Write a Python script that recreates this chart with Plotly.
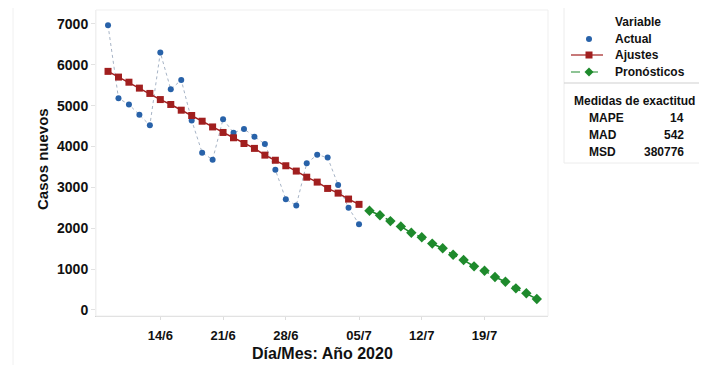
import plotly.graph_objects as go

# ---- data ----
days_actual = list(range(1, 26))
actual = [6970, 5180, 5030, 4780, 4520, 6300, 5400, 5630, 4640, 3850, 3680, 4670,
          4340, 4430, 4240, 4060, 3430, 2710, 2560, 3590, 3800, 3730, 3060, 2500, 2100]
fits = [5840, 5700, 5575, 5430, 5300, 5150, 5030, 4890, 4760, 4620, 4480, 4345,
        4215, 4075, 3955, 3790, 3665, 3530, 3400, 3250, 3130, 2975, 2860, 2715, 2585]
days_fc = list(range(26, 43))
forecast = [2430, 2320, 2176, 2046, 1890, 1780, 1625, 1510, 1352, 1222, 1068, 961,
            807, 692, 530, 408, 269]
tick_days = [6, 12, 18, 25, 31, 37]
tick_labels = ["14/6", "21/6", "28/6", "05/7", "12/7", "19/7"]
y_ticks = [0, 1000, 2000, 3000, 4000, 5000, 6000, 7000]
legend_names = ["Actual", "Ajustes", "Pronósticos"]
measure_names = ["MAPE", "MAD", "MSD"]
measure_values = ["14", "542", "380776"]

FONT = "Liberation Sans, Arial, sans-serif"
BLUE = "#2862a9"
RED = "#a11f1f"
GREEN = "#1e8a2c"
TXT = "#111111"

fig = go.Figure()
fig.add_trace(go.Scatter(x=days_actual, y=actual, mode="lines",
                         line=dict(color="#a7b4c6", width=1, dash="dot"),
                         showlegend=False, hoverinfo="skip"))
fig.add_trace(go.Scatter(x=days_actual, y=actual, mode="markers", name=legend_names[0],
                         marker=dict(color=BLUE, size=6, symbol="circle"), showlegend=False))
fig.add_trace(go.Scatter(x=days_actual, y=fits, mode="lines+markers", name=legend_names[1],
                         line=dict(color=RED, width=1.5),
                         marker=dict(color=RED, size=7, symbol="square"), showlegend=False))
fig.add_trace(go.Scatter(x=days_fc, y=forecast, mode="lines+markers", name=legend_names[2],
                         line=dict(color=GREEN, width=1.5, dash="dash"),
                         marker=dict(color=GREEN, size=8, symbol="diamond"), showlegend=False))

# page body has an 8px margin; figure sized to fit the 707x365 window
OFF = 8
W, H = 707 - OFF, 365 - OFF
# plot area in screen pixels: x 96..548, y 10..316
L = 96 - OFF
R = W - (548 - OFF)
T = 10 - OFF
B = H - (316 - OFF)
pw, ph = W - L - R, H - T - B


def px(s):
    return (s - OFF - L) / pw


def py(s):
    return (H - B - (s - OFF)) / ph


def font(size):
    return dict(family=FONT, size=size, color=TXT, weight="bold")


shapes = [
    dict(type="rect", xref="paper", yref="paper", x0=0, x1=1, y0=0, y1=1,
         line=dict(color="#efefef", width=1)),
    dict(type="rect", xref="paper", yref="paper", x0=px(564), x1=px(702),
         y0=py(163), y1=py(7), line=dict(color="#ececec", width=1)),
    dict(type="line", xref="paper", yref="paper", x0=px(564), x1=px(702),
         y0=py(83), y1=py(83), line=dict(color="#cfcfcf", width=1)),
    dict(type="line", xref="paper", yref="paper", x0=px(13), x1=px(13),
         y0=py(365), y1=py(8), line=dict(color="#f0f0f0", width=1)),
]

# legend symbols (drawn as shapes)
sx = 589
row_leg = [39, 55, 72]
r = 3
shapes.append(dict(type="circle", xref="paper", yref="paper",
                   x0=px(sx - r), x1=px(sx + r), y0=py(row_leg[0] + r), y1=py(row_leg[0] - r),
                   fillcolor=BLUE, line=dict(color=BLUE, width=0)))
shapes.append(dict(type="line", xref="paper", yref="paper", x0=px(571), x1=px(603),
                   y0=py(row_leg[1]), y1=py(row_leg[1]), line=dict(color=RED, width=1.2)))
s = 3.5
shapes.append(dict(type="rect", xref="paper", yref="paper",
                   x0=px(sx - s), x1=px(sx + s), y0=py(row_leg[1] + s), y1=py(row_leg[1] - s),
                   fillcolor=RED, line=dict(color=RED, width=0)))
shapes.append(dict(type="line", xref="paper", yref="paper", x0=px(571), x1=px(603),
                   y0=py(row_leg[2]), y1=py(row_leg[2]),
                   line=dict(color=GREEN, width=1.2, dash="dash")))
d = 4.5
yc = row_leg[2]
path = "M {a},{b} L {c},{d2} L {e},{f} L {g},{h} Z".format(
    a=px(sx), b=py(yc - d), c=px(sx + d), d2=py(yc), e=px(sx), f=py(yc + d), g=px(sx - d), h=py(yc))
shapes.append(dict(type="path", xref="paper", yref="paper", path=path,
                   fillcolor=GREEN, line=dict(color=GREEN, width=0)))

annotations = [
    dict(text="Casos nuevos", xref="paper", yref="paper", x=px(42), y=py(159),
         textangle=-90, showarrow=False, xanchor="center", yanchor="middle", font=font(15)),
    dict(text="Día/Mes: Año 2020", xref="paper", yref="paper", x=px(322), y=py(353),
         showarrow=False, xanchor="center", yanchor="middle", font=font(16)),
    dict(text="Variable", xref="paper", yref="paper", x=px(613), y=py(22),
         showarrow=False, xanchor="left", yanchor="middle", font=font(12)),
    dict(text="Medidas de exactitud", xref="paper", yref="paper", x=px(634), y=py(101),
         showarrow=False, xanchor="center", yanchor="middle", font=font(12)),
]
for name, yy in zip(legend_names, row_leg):
    annotations.append(dict(text=name, xref="paper", yref="paper", x=px(613), y=py(yy),
                            showarrow=False, xanchor="left", yanchor="middle", font=font(12)))
row_y = [118, 135, 152]
for name, val, yy in zip(measure_names, measure_values, row_y):
    annotations.append(dict(text=name, xref="paper", yref="paper", x=px(587), y=py(yy),
                            showarrow=False, xanchor="left", yanchor="middle", font=font(12)))
    annotations.append(dict(text=val, xref="paper", yref="paper", x=px(686), y=py(yy),
                            showarrow=False, xanchor="right", yanchor="middle", font=font(12)))

fig.update_layout(
    width=W, height=H,
    margin=dict(l=L, r=R, t=T, b=B),
    paper_bgcolor="white", plot_bgcolor="white",
    font=dict(family=FONT, color=TXT),
    showlegend=False,
    shapes=shapes,
    annotations=annotations,
    xaxis=dict(range=[-0.15, 43.07], tickvals=tick_days, ticktext=tick_labels,
               showgrid=False, zeroline=False, showline=True, linecolor="#d4d4d4",
               ticks="outside", ticklen=3, tickcolor="#dddddd",
               tickfont=font(13), ticklabelstandoff=4),
    yaxis=dict(range=[-147, 7342], tickvals=y_ticks,
               showgrid=False, zeroline=False, showline=True, linecolor="#f2f2f2",
               ticks="outside", ticklen=4, tickcolor="#e2e2e2",
               tickfont=font(14)),
)

fig.write_html("out.html")
